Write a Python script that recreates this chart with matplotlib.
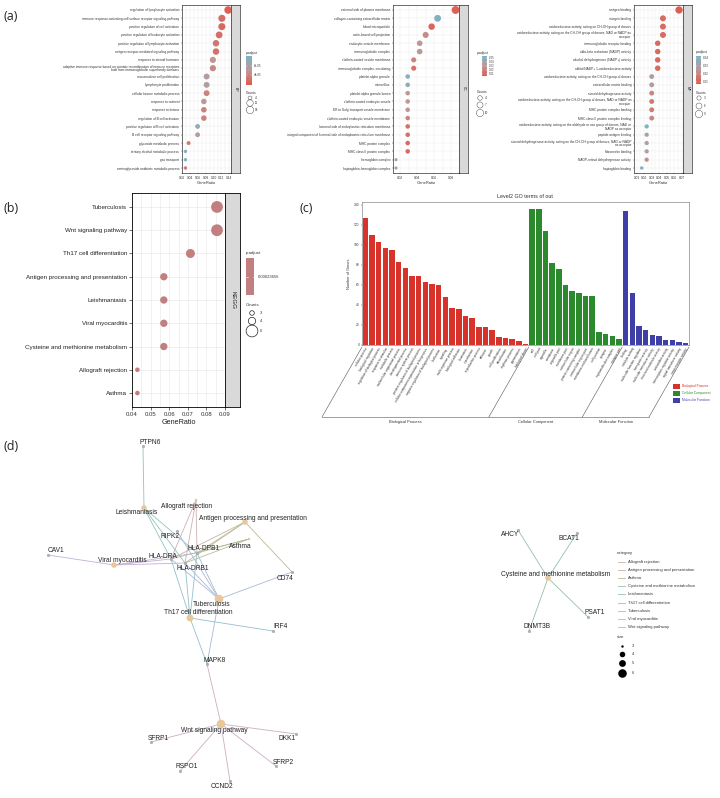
import numpy as np
import matplotlib.pyplot as plt
from matplotlib.colors import LinearSegmentedColormap, to_rgb

plt.rcParams['font.family'] = ['Liberation Sans', 'DejaVu Sans']

# ---------------- data ----------------
# (a) GO enrichment dotplots
bp_terms = ['regulation of lymphocyte activation',
            'immune response-activating cell surface receptor signaling pathway',
            'positive regulation of cell activation',
            'positive regulation of leukocyte activation',
            'positive regulation of lymphocyte activation',
            'antigen receptor-mediated signaling pathway',
            'response to steroid hormone',
            'adaptive immune response based on somatic recombination of immune receptors\nbuilt from immunoglobulin superfamily domains',
            'mononuclear cell proliferation',
            'lymphocyte proliferation',
            'cellular ketone metabolic process',
            'response to nutrient',
            'response to ketone',
            'regulation of B cell activation',
            'positive regulation of B cell activation',
            'B cell receptor signaling pathway',
            'glycoside metabolic process',
            'tertiary alcohol metabolic process',
            'gas transport',
            'aminoglycoside antibiotic metabolic process']
bp_ratio = [0.137, 0.121, 0.121, 0.114, 0.106, 0.106, 0.098, 0.098, 0.082, 0.082,
            0.082, 0.075, 0.075, 0.075, 0.059, 0.059, 0.036, 0.028, 0.028, 0.028]
bp_padj = [5e-6, 2e-5, 1.5e-5, 2e-5, 3e-5, 2.5e-5, 6e-5, 4.5e-5, 7e-5, 7e-5,
           4e-5, 6.5e-5, 4e-5, 4e-5, 1.0e-4, 7e-5, 3e-5, 1.1e-4, 1.1e-4, 3e-5]
bp_counts = [15, 13, 13, 12, 11, 11, 10, 10, 9, 9, 9, 8, 8, 8, 6, 6, 4, 3, 3, 3]

cc_terms = ['external side of plasma membrane',
            'collagen-containing extracellular matrix',
            'blood microparticle',
            'actin-based cell projection',
            'endocytic vesicle membrane',
            'immunoglobulin complex',
            'clathrin-coated vesicle membrane',
            'immunoglobulin complex, circulating',
            'platelet alpha granule',
            'microvillus',
            'platelet alpha granule lumen',
            'clathrin-coated endocytic vesicle',
            'ER to Golgi transport vesicle membrane',
            'clathrin-coated endocytic vesicle membrane',
            'lumenal side of endoplasmic reticulum membrane',
            'integral component of lumenal side of endoplasmic reticulum membrane',
            'MHC protein complex',
            'MHC class II protein complex',
            'hemoglobin complex',
            'haptoglobin-hemoglobin complex']
cc_ratio = [0.085, 0.064, 0.057, 0.050, 0.043, 0.043, 0.036, 0.036, 0.029, 0.029,
            0.029, 0.029, 0.029, 0.029, 0.029, 0.029, 0.029, 0.029, 0.0153, 0.0153]
cc_padj = [0.008, 0.052, 0.010, 0.025, 0.030, 0.030, 0.022, 0.015, 0.050, 0.045,
           0.032, 0.030, 0.030, 0.022, 0.015, 0.015, 0.012, 0.012, 0.040, 0.040]
cc_counts = [12, 9, 8, 7, 6, 6, 5, 5, 4, 4, 4, 4, 4, 4, 4, 4, 4, 4, 2, 2]

mf_terms = ['antigen binding',
            'integrin binding',
            'oxidoreductase activity, acting on CH-OH group of donors',
            'oxidoreductase activity, acting on the CH-OH group of donors, NAD or NADP as\nacceptor',
            'immunoglobulin receptor binding',
            'aldo-keto reductase (NADP) activity',
            'alcohol dehydrogenase (NADP+) activity',
            'alditol:NADP+ 1-oxidoreductase activity',
            'oxidoreductase activity, acting on the CH-CH group of donors',
            'extracellular matrix binding',
            'steroid dehydrogenase activity',
            'oxidoreductase activity, acting on the CH-CH group of donors, NAD or NADP as\nacceptor',
            'MHC protein complex binding',
            'MHC class II protein complex binding',
            'oxidoreductase activity, acting on the aldehyde or oxo group of donors, NAD or\nNADP as acceptor',
            'peptide antigen binding',
            'steroid dehydrogenase activity, acting on the CH-OH group of donors, NAD or NADP\nas acceptor',
            'fibronectin binding',
            'NADP-retinol dehydrogenase activity',
            'haptoglobin binding']
mf_ratio = [0.0664, 0.045, 0.045, 0.045, 0.038, 0.038, 0.038, 0.038, 0.030, 0.030,
            0.030, 0.030, 0.030, 0.030, 0.0233, 0.0233, 0.0233, 0.0233, 0.0233, 0.0167]
mf_padj = [0.008, 0.012, 0.012, 0.012, 0.012, 0.012, 0.012, 0.012, 0.030, 0.028,
           0.020, 0.016, 0.016, 0.020, 0.042, 0.033, 0.030, 0.030, 0.022, 0.040]
mf_counts = [9, 6, 6, 6, 5, 5, 5, 5, 4, 4, 4, 4, 4, 4, 3, 3, 3, 3, 3, 2]

# (b) KEGG dotplot
kegg_terms = ['Tuberculosis', 'Wnt signaling pathway', 'Th17 cell differentiation',
              'Antigen processing and presentation', 'Leishmaniasis', 'Viral myocarditis',
              'Cysteine and methionine metabolism', 'Allograft rejection', 'Asthma']
kegg_ratio = [0.0857, 0.0857, 0.0714, 0.0571, 0.0571, 0.0571, 0.0571, 0.0429, 0.0429]
kegg_counts = [6, 6, 5, 4, 4, 4, 4, 3, 3]

# (c) level2 GO terms
bp2_terms = ['cellular process', 'biological regulation', 'regulation of biological process',
             'response to stimulus', 'metabolic process', 'multicellular organismal process',
             'developmental process', 'immune system process',
             'positive regulation of biological process',
             'cellular component organization or biogenesis',
             'negative regulation of biological process', 'localization', 'signaling',
             'multi-organism process', 'biological adhesion', 'locomotion', 'reproduction',
             'reproductive process', 'behavior', 'growth', 'cell proliferation',
             'detoxification', 'rhythmic process', 'pigmentation', 'biological phase']
bp2_values = [127, 110, 103, 97, 95, 83, 77, 69, 69, 63, 61, 60, 48, 37, 36, 29, 27,
              18, 18, 15, 8, 7, 6, 4, 1]
cc2_terms = ['cell', 'cell part', 'organelle', 'membrane', 'organelle part', 'membrane part',
             'extracellular region', 'protein-containing complex', 'extracellular region part',
             'membrane-enclosed lumen', 'cell junction', 'synapse', 'supramolecular complex',
             'synapse part']
cc2_values = [136, 136, 114, 82, 76, 60, 54, 52, 49, 49, 13, 11, 9, 6]
mf2_terms = ['binding', 'catalytic activity', 'molecular function regulator',
             'transporter activity', 'molecular transducer activity',
             'structural molecule activity', 'antioxidant activity',
             'transcription regulator activity', 'signal transducer activity',
             'cargo receptor activity']
mf2_values = [134, 52, 19, 15, 10, 9, 5, 5, 3, 2]

# (d) gene-concept network (layout coordinates)
cat_names = ['Allograft rejection', 'Antigen processing and presentation', 'Asthma',
             'Cysteine and methionine metabolism', 'Leishmaniasis',
             'Th17 cell differentiation', 'Tuberculosis', 'Viral myocarditis',
             'Wnt signaling pathway']
cat_x = [196, 245, 249, 548, 144, 190, 219, 114, 221]
cat_y = [500, 522, 539, 578, 508, 618, 599, 565, 724]
cat_size = [3, 4, 3, 4, 4, 5, 6, 4, 6]
gene_names = ['PTPN6', 'RIPK2', 'HLA-DPB1', 'HLA-DRA', 'HLA-DRB1', 'CAV1', 'CD74', 'IRF4',
              'MAPK8', 'SFRP1', 'DKK1', 'SFRP2', 'RSPO1', 'CCND2', 'AHCY', 'BCAT1',
              'DNMT3B', 'PSAT1']
gene_x = [143, 177, 197, 171, 185, 48, 292, 273, 207, 151, 296, 276, 180, 230, 518, 577, 529, 588]
gene_y = [446, 531, 553, 559, 563, 555, 572, 631, 664, 742, 734, 766, 771, 781, 530, 533, 631, 617]
HLA = ['HLA-DRA', 'HLA-DRB1', 'HLA-DPB1']
cat_genes = {
    'Allograft rejection': HLA,
    'Antigen processing and presentation': HLA + ['CD74'],
    'Asthma': HLA,
    'Cysteine and methionine metabolism': ['AHCY', 'BCAT1', 'DNMT3B', 'PSAT1'],
    'Leishmaniasis': ['PTPN6'] + HLA,
    'Th17 cell differentiation': HLA + ['MAPK8', 'IRF4'],
    'Tuberculosis': HLA + ['RIPK2', 'CD74', 'MAPK8'],
    'Viral myocarditis': ['CAV1'] + HLA,
    'Wnt signaling pathway': ['MAPK8', 'SFRP1', 'SFRP2', 'DKK1', 'RSPO1', 'CCND2'],
}

# ---------------- figure ----------------
W, H = 720, 798
fig = plt.figure(figsize=(7.2, 7.98), dpi=100)


def rect(x0, y0, x1, y1):
    return [x0 / W, 1 - y1 / H, (x1 - x0) / W, (y1 - y0) / H]


ov = fig.add_axes([0, 0, 1, 1], zorder=10)
ov.patch.set_alpha(0)
ov.axis('off')
ov.set_xlim(0, W)
ov.set_ylim(H, 0)

cmap = LinearSegmentedColormap.from_list('padj', ['#e05a4e', '#bf9797', '#7ab6c6'])
GRID = '#ebebeb'


def dotplot(box, terms, ratio, padj, counts, smult, vlim, xlim, xticks, facet, fs=2.3):
    x0, y0, x1, y1 = box
    ax = fig.add_axes(rect(x0, y0, x1, y1))
    n = len(terms)
    yp = np.arange(n)[::-1]
    ax.scatter(ratio, yp, s=np.array(counts) * smult, c=padj, cmap=cmap,
               vmin=vlim[0], vmax=vlim[1], lw=0, zorder=3)
    ax.set_xlim(*xlim)
    ax.set_ylim(-0.6, n - 0.4)
    ax.set_yticks(yp)
    ax.set_yticklabels(terms, fontsize=fs, linespacing=0.9)
    ax.set_xticks(xticks)
    ax.set_xticklabels(['%.2f' % t for t in xticks], fontsize=fs)
    step = xticks[1] - xticks[0]
    ax.set_xticks(np.array(xticks[:-1]) + step / 2, minor=True)
    ax.grid(True, which='both', color=GRID, lw=0.3)
    ax.set_axisbelow(True)
    ax.tick_params(which='major', length=1, width=0.3, pad=1, colors='#333333')
    ax.tick_params(which='minor', length=0)
    for s in ax.spines.values():
        s.set_linewidth(0.4)
    ax.set_xlabel('GeneRatio', fontsize=fs * 1.25, labelpad=1, color='#333333')
    sax = fig.add_axes(rect(x1, y0, x1 + 9, y1))
    sax.set_facecolor('#d9d9d9')
    sax.set_xticks([])
    sax.set_yticks([])
    for s in sax.spines.values():
        s.set_linewidth(0.4)
    sax.text(0.5, 0.5, facet, rotation=-90, ha='center', va='center',
             fontsize=fs * 1.1, color='#1a1a1a', transform=sax.transAxes)
    return ax


def grad_bar(x0, y0, x1, y1, vlim, ticks, labels, fs=2.2):
    g = np.linspace(1, 0, 100).reshape(-1, 1)
    ov.imshow(g, extent=[x0, x1, y1, y0], cmap=cmap, aspect='auto', zorder=2)
    for t, lab in zip(ticks, labels):
        yy = y1 - (t - vlim[0]) / (vlim[1] - vlim[0]) * (y1 - y0)
        ov.plot([x0, x0 + 1], [yy, yy], color='white', lw=0.3)
        ov.plot([x1 - 1, x1], [yy, yy], color='white', lw=0.3)
        ov.text(x1 + 2, yy, lab, fontsize=fs, va='center', color='#333333')


def size_legend(x, ys, counts, smult, labels, fs=2.2):
    ov.scatter([x] * len(ys), ys, s=np.array(counts) * smult, facecolors='none',
               edgecolors='#333333', lw=0.3)
    for yy, lab in zip(ys, labels):
        ov.text(x + 5, yy, lab, fontsize=fs, va='center', color='#333333')


# ---- (a)
dotplot((182, 5, 231, 173), bp_terms, bp_ratio, bp_padj, bp_counts, 2.0, (0, 1.2e-4),
        (0.0192, 0.1443), [0.02, 0.04, 0.06, 0.08, 0.10, 0.12, 0.14], 'BP')
dotplot((393, 5, 459, 173), cc_terms, cc_ratio, cc_padj, cc_counts, 2.7, (0.005, 0.055),
        (0.0118, 0.089), [0.02, 0.04, 0.06, 0.08], 'CC')
dotplot((634, 5, 683, 173), mf_terms, mf_ratio, mf_padj, mf_counts, 3.1, (0.007, 0.043),
        (0.0064, 0.0717), [0.01, 0.02, 0.03, 0.04, 0.05, 0.06, 0.07], 'MF')

ov.text(246, 53, 'p.adjust', fontsize=2.4, va='center', color='#333333')
grad_bar(246, 56, 252, 85, (0, 1.2e-4), [8e-5, 4e-5], ['8e-05', '4e-05'])
ov.text(246, 93, 'Counts', fontsize=2.4, va='center', color='#333333')
size_legend(250, [98, 103, 110], [4, 11, 14], 2.0, ['4', '11', '14'])

ov.text(477, 53, 'p.adjust', fontsize=2.4, va='center', color='#333333')
grad_bar(482, 56, 487, 76, (0.005, 0.055), [0.05, 0.04, 0.03, 0.02, 0.01],
         ['0.05', '0.04', '0.03', '0.02', '0.01'], fs=2.0)
ov.text(477, 92, 'Counts', fontsize=2.4, va='center', color='#333333')
size_legend(480, [98, 105, 113], [4, 7, 10], 2.7, ['4', '7', '10'])

ov.text(696, 52, 'p.adjust', fontsize=2.4, va='center', color='#333333')
grad_bar(696, 56, 701, 84, (0.007, 0.043), [0.04, 0.03, 0.02, 0.01],
         ['0.04', '0.03', '0.02', '0.01'])
ov.text(696, 93, 'Counts', fontsize=2.4, va='center', color='#333333')
size_legend(699, [98, 106, 114], [3, 6, 9], 3.1, ['3', '6', '9'])

# ---- (b)
def size_b(c):
    return np.interp(c, [3, 4, 5, 6], [11, 28, 42, 72])


axb = fig.add_axes(rect(132, 193, 225, 407))
nb = len(kegg_terms)
yb = np.arange(nb)[::-1]
axb.scatter(kegg_ratio, yb, s=size_b(np.array(kegg_counts)), color='#c27f7f', lw=0, zorder=3)
axb.set_xlim(0.04, 0.09)
axb.set_ylim(-0.6, nb - 0.4)
axb.set_yticks(yb)
axb.set_yticklabels(kegg_terms, fontsize=4.5, color='#222222')
bt = [0.04, 0.05, 0.06, 0.07, 0.08, 0.09]
axb.set_xticks(bt)
axb.set_xticklabels(['%.2f' % t for t in bt], fontsize=4.3, color='#333333')
axb.set_xticks(np.array(bt[:-1]) + 0.005, minor=True)
axb.grid(True, which='both', color=GRID, lw=0.5)
axb.set_axisbelow(True)
axb.tick_params(which='major', length=2, width=0.4, pad=1.5)
axb.tick_params(which='minor', length=0)
for s in axb.spines.values():
    s.set_linewidth(0.6)
axb.set_xlabel('GeneRatio', fontsize=5.2, labelpad=1.5, color='#222222')
sbx = fig.add_axes(rect(225, 193, 240, 407))
sbx.set_facecolor('#d9d9d9')
sbx.set_xticks([])
sbx.set_yticks([])
for s in sbx.spines.values():
    s.set_linewidth(0.6)
sbx.text(0.5, 0.5, 'KEGG', rotation=-90, ha='center', va='center', fontsize=4.5,
         color='#1a1a1a', transform=sbx.transAxes)

ov.text(246, 253, 'p.adjust', fontsize=3.2, va='center', color='#333333')
ov.add_patch(plt.Rectangle((246, 258), 8, 37, color='#c27f7f', lw=0))
ov.plot([246, 247.5], [276.5, 276.5], color='white', lw=0.4)
ov.plot([252.5, 254], [276.5, 276.5], color='white', lw=0.4)
ov.text(258, 276.5, '0.00623656', fontsize=3.0, va='center', color='#333333')
ov.text(246, 305, 'Counts', fontsize=3.2, va='center', color='#333333')
ov.scatter([252] * 3, [313, 321, 331], s=size_b(np.array([3, 4, 6])), facecolors='none',
           edgecolors='#222222', lw=0.5)
for yy, lab in zip([313, 321, 331], ['3', '4', '6']):
    ov.text(260, yy, lab, fontsize=3.0, va='center', color='#333333')

# ---- (c)
groups = [(bp2_terms, bp2_values, '#d7332b', 'Biological Process'),
          (cc2_terms, cc2_values, '#2b8a2b', 'Cellular Component'),
          (mf2_terms, mf2_values, '#3f3fa8', 'Molecular Function')]
axc = fig.add_axes(rect(362, 202, 689, 345))
all_terms = []
start = 0
bounds = [-0.5]
for terms, vals, col, name in groups:
    xs = np.arange(start, start + len(vals))
    axc.bar(xs, vals, width=0.82, color=col, lw=0)
    all_terms += terms
    start += len(vals)
    bounds.append(start - 0.5)
axc.set_xlim(-0.5, start - 0.5)
axc.set_ylim(0, 142.5)
axc.set_yticks(np.arange(0, 141, 20))
axc.set_yticklabels([str(v) for v in range(0, 141, 20)], fontsize=2.3, color='#333333')
axc.set_xticks(np.arange(start))
axc.set_xticklabels(all_terms, fontsize=2.2, rotation=60, ha='right', va='top',
                    rotation_mode='anchor', color='#333333')
axc.tick_params(axis='x', length=0, pad=1.5)
axc.tick_params(axis='y', length=1, width=0.3, pad=1, colors='#333333')
for s in axc.spines.values():
    s.set_linewidth(0.5)
    s.set_color('#888888')
axc.set_ylabel('Number of Genes', fontsize=2.8, labelpad=2, color='#333333')
ov.text(497, 197, 'Level2 GO terms of out', fontsize=3.9, va='center', color='#333333')

inv = ov.transData.inverted()
tops = [inv.transform(axc.transData.transform((b, 0))) for b in bounds]
bots = [(t[0] - 40, t[1] + 72) for t in tops]
for t, b in zip(tops, bots):
    ov.plot([t[0], b[0]], [t[1] + 2, b[1]], color='#555555', lw=0.4)
ov.plot([bots[0][0], bots[-1][0]], [bots[0][1], bots[-1][1]], color='#555555', lw=0.4)
for i, (terms, vals, col, name) in enumerate(groups):
    xm = (bots[i][0] + bots[i + 1][0]) / 2
    ov.text(xm, bots[i][1] + 5, name, fontsize=2.9, ha='center', va='center', color='#333333')
    yy = 386 + 7 * i
    ov.add_patch(plt.Rectangle((673, yy - 2.5), 7, 5, color=col, lw=0))
    ov.text(682, yy, name, fontsize=2.3, va='center', color=col)

# ---- (d) network
pal = ['#F8766D', '#D39200', '#93AA00', '#00BA38', '#00C19F', '#00B9E3', '#619CFF',
       '#DB72FB', '#FF61C3']


def soften(c):
    r = np.array(to_rgb(c))
    return tuple(0.22 * r + 0.78 * np.array([0.74, 0.76, 0.78]))


gpos = dict(zip(gene_names, zip(gene_x, gene_y)))
for i, cat in enumerate(cat_names):
    for g in cat_genes[cat]:
        gx, gy = gpos[g]
        ov.plot([cat_x[i], gx], [cat_y[i], gy], color=soften(pal[i]), lw=0.6, zorder=1)


def size_d(c):
    return np.interp(c, [3, 4, 5, 6], [3, 16, 24, 38])


ov.scatter(gene_x, gene_y, s=4, color='#b3b3b3', edgecolors='#999999', lw=0.2, zorder=3)
ov.scatter(cat_x, cat_y, s=size_d(np.array(cat_size)), color='#E8C79A', lw=0, zorder=3)

gene_off = {'PTPN6': (7, -4), 'RIPK2': (-7, 6), 'HLA-DPB1': (7, -4), 'HLA-DRA': (-8, -3),
            'HLA-DRB1': (8, 5), 'CAV1': (8, -4), 'CD74': (-7, 6), 'IRF4': (8, -4),
            'MAPK8': (8, -4), 'SFRP1': (7, -4), 'DKK1': (-9, 5), 'SFRP2': (7, -4),
            'RSPO1': (7, -4), 'CCND2': (-8, 6), 'AHCY': (-8, 5), 'BCAT1': (-8, 6),
            'DNMT3B': (8, -5), 'PSAT1': (7, -4)}
cat_off = {'Allograft rejection': (-9, 6), 'Antigen processing and presentation': (8, -4),
           'Asthma': (-9, 7), 'Cysteine and methionine metabolism': (8, -4),
           'Leishmaniasis': (-7, 5), 'Th17 cell differentiation': (8, -5),
           'Tuberculosis': (-7, 5), 'Viral myocarditis': (8, -4),
           'Wnt signaling pathway': (-7, 6)}
for g, x, y in zip(gene_names, gene_x, gene_y):
    dx, dy = gene_off[g]
    ov.text(x + dx, y + dy, g, fontsize=4.8, ha='center', va='center', color='#222222', zorder=4)
for c, x, y in zip(cat_names, cat_x, cat_y):
    dx, dy = cat_off[c]
    ov.text(x + dx, y + dy, c, fontsize=4.8, ha='center', va='center', color='#222222', zorder=4)

# legend (d)
ov.text(617, 553, 'category', fontsize=3.1, va='center', color='#333333')
for i, cat in enumerate(cat_names):
    yy = 562 + 8.1 * i
    ov.plot([618, 625], [yy, yy], color=soften(pal[i]), lw=0.6)
    ov.text(628, yy, cat, fontsize=3.0, va='center', color='#333333')
ov.text(617, 637, 'size', fontsize=3.1, va='center', color='#333333')
for yy, c in zip([646, 654, 663, 673], [3, 4, 5, 6]):
    ov.scatter([622], [yy], s=size_d(c), color='black', lw=0)
    ov.text(632, yy, str(c), fontsize=3.0, va='center', color='#333333')

# panel labels
for lab, x, y in [('(a)', 3, 16), ('(b)', 3, 208), ('(c)', 300, 208), ('(d)', 3, 446)]:
    ov.text(x, y, lab, fontsize=9, va='center', color='#222222', family='Open Sans')

ov.set_xlim(0, W)
ov.set_ylim(H, 0)
fig.savefig('out.png', dpi=100)
